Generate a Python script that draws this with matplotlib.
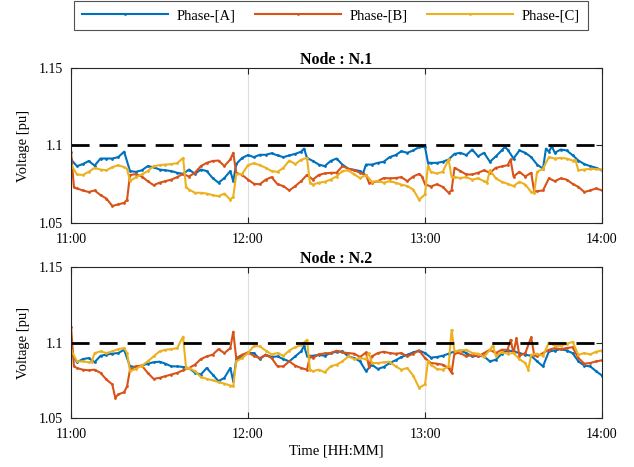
import matplotlib
matplotlib.use('Agg')
import matplotlib.pyplot as plt

plt.rcParams['font.family'] = ['Liberation Serif', 'DejaVu Serif']
plt.rcParams['font.size'] = 10

# time axis in minutes after 11:00
tick_min = [0, 60, 120, 180]
tick_lab = ['11:00', '12:00', '13:00', '14:00']
ytick_val = [1.05, 1.1, 1.15]
ytick_lab = ['1.05', '1.1', '1.15']
v_limit = 1.1
phase_names = ['Phase-[A]', 'Phase-[B]', 'Phase-[C]']
node_names = ['N.1', 'N.2']

# ---- Node N.1 ----
n1_a_min = [0, 2, 4, 6, 8, 10, 12, 14, 16, 18, 20, 22, 24, 26, 28, 30, 32, 34, 36, 38, 40, 42, 44, 46, 48, 50,
            52, 54, 55, 56, 58, 60, 62, 64, 66, 68, 70, 72, 74, 76, 78, 79, 80, 82, 84, 86, 88, 90, 92, 94, 96,
            98, 99, 100, 102, 104, 106, 108, 110, 112, 114, 116, 118, 120, 121, 122, 124, 126, 128, 130, 132,
            134, 136, 138, 140, 142, 144, 146, 147, 148, 150, 152, 154, 156, 158, 160, 161, 162, 163, 164, 166,
            168, 170, 172, 174, 176, 178, 180]
n1_a_val = [1.091, 1.0867, 1.088, 1.090, 1.087, 1.0916, 1.0916, 1.0916, 1.0925, 1.096, 1.0835, 1.083, 1.084,
            1.0867, 1.086, 1.0845, 1.084, 1.0835, 1.0824, 1.0817, 1.0845, 1.0817, 1.0845, 1.0835, 1.079, 1.076,
            1.079, 1.0835, 1.077, 1.088, 1.092, 1.0938, 1.0925, 1.094, 1.094, 1.095, 1.0936, 1.0925, 1.0936,
            1.0946, 1.096, 1.098, 1.092, 1.090, 1.0877, 1.0867, 1.090, 1.0916, 1.0877, 1.085, 1.0843, 1.0835,
            1.082, 1.0877, 1.0877, 1.0888, 1.0895, 1.0925, 1.0938, 1.0963, 1.0953, 1.0968, 1.099, 1.099, 1.089,
            1.0888, 1.0888, 1.0895, 1.091, 1.0946, 1.0953, 1.0938, 1.0974, 1.093, 1.0953, 1.0895, 1.093, 1.0968,
            1.099, 1.0974, 1.0916, 1.0968, 1.0953, 1.0925, 1.0877, 1.085, 1.098, 1.096, 1.0995, 1.0953, 1.0974,
            1.0968, 1.0938, 1.0903, 1.088, 1.0867, 1.0856, 1.084]

n1_b_min = [0, 1, 2, 4, 6, 8, 10, 12, 14, 16, 18, 19, 20, 22, 24, 26, 28, 30, 32, 34, 36, 38, 40, 42, 44, 46,
            48, 50, 52, 54, 55, 56, 58, 60, 62, 64, 66, 68, 70, 72, 74, 76, 78, 80, 82, 84, 86, 88, 90, 92, 94,
            96, 98, 100, 101, 102, 104, 106, 108, 110, 112, 114, 116, 118, 119, 120, 122, 124, 126, 128, 129,
            130, 132, 134, 136, 138, 140, 142, 144, 146, 148, 149, 150, 152, 154, 156, 157, 158, 160, 162, 164,
            166, 168, 170, 172, 174, 176, 178, 180]
n1_b_val = [1.096, 1.073, 1.0723, 1.071, 1.070, 1.071, 1.068, 1.0658, 1.061, 1.062, 1.063, 1.065, 1.081, 1.0815,
            1.080, 1.077, 1.0744, 1.076, 1.077, 1.078, 1.0796, 1.0817, 1.080, 1.0824, 1.0867, 1.0888, 1.090,
            1.0903, 1.0867, 1.091, 1.0953, 1.0824, 1.081, 1.078, 1.0753, 1.075, 1.078, 1.0796, 1.075, 1.0738,
            1.071, 1.0738, 1.077, 1.081, 1.078, 1.081, 1.082, 1.0824, 1.0824, 1.0867, 1.085, 1.084, 1.0824,
            1.081, 1.076, 1.076, 1.077, 1.079, 1.0788, 1.079, 1.0796, 1.077, 1.080, 1.0817, 1.080, 1.075,
            1.0735, 1.075, 1.0733, 1.0695, 1.071, 1.0856, 1.0835, 1.0813, 1.0813, 1.0824, 1.084, 1.0824, 1.0856,
            1.0865, 1.0873, 1.091, 1.080, 1.083, 1.080, 1.0824, 1.0705, 1.0705, 1.071, 1.0788, 1.077, 1.0788,
            1.078, 1.0753, 1.0733, 1.070, 1.071, 1.0723, 1.071]

n1_c_min = [0, 2, 4, 6, 8, 10, 12, 14, 16, 18, 19, 20, 22, 24, 26, 28, 30, 32, 34, 36, 38, 39, 40, 42, 44, 46,
            48, 50, 52, 54, 55, 56, 58, 60, 62, 64, 66, 68, 70, 72, 74, 76, 78, 80, 81, 82, 84, 86, 88, 90, 92,
            94, 96, 98, 100, 102, 104, 106, 108, 110, 112, 114, 116, 118, 120, 121, 122, 124, 126, 128, 129,
            130, 132, 134, 136, 138, 140, 141, 142, 144, 146, 148, 150, 152, 154, 156, 157, 158, 160, 162, 164,
            166, 168, 170, 171, 172, 174, 176, 178, 180]
n1_c_val = [1.0877, 1.0813, 1.081, 1.083, 1.0856, 1.0845, 1.084, 1.086, 1.0873, 1.086, 1.085, 1.077, 1.0796,
            1.0813, 1.0835, 1.0867, 1.0873, 1.0877, 1.088, 1.0886, 1.092, 1.073, 1.0716, 1.0695, 1.0695, 1.069,
            1.068, 1.0673, 1.069, 1.065, 1.067, 1.0813, 1.0817, 1.0873, 1.0886, 1.0873, 1.0856, 1.0835, 1.083,
            1.0856, 1.0903, 1.088, 1.0908, 1.092, 1.076, 1.0748, 1.076, 1.0766, 1.078, 1.080, 1.0835, 1.084,
            1.0813, 1.079, 1.081, 1.0766, 1.077, 1.076, 1.077, 1.076, 1.0748, 1.0738, 1.0716, 1.065, 1.0684,
            1.087, 1.083, 1.082, 1.083, 1.091, 1.0796, 1.0796, 1.079, 1.0796, 1.078, 1.0788, 1.077, 1.076, 1.084,
            1.0788, 1.0766, 1.0753, 1.0738, 1.0766, 1.0748, 1.070, 1.0695, 1.083, 1.085, 1.0925, 1.0916, 1.092,
            1.0916, 1.0903, 1.0905, 1.084, 1.0845, 1.085, 1.0848, 1.0845]

# ---- Node N.2 ----
n2_a_min = [0, 2, 4, 6, 8, 10, 12, 14, 16, 18, 20, 22, 24, 26, 28, 30, 32, 34, 36, 38, 40, 42, 44, 46, 48, 50,
            52, 54, 55, 56, 58, 60, 62, 64, 66, 68, 70, 72, 74, 76, 78, 79, 80, 82, 84, 86, 88, 90, 92, 94, 96,
            98, 100, 102, 104, 106, 108, 110, 112, 114, 116, 118, 120, 122, 124, 126, 128, 130, 132, 134, 136,
            138, 140, 142, 144, 146, 148, 150, 152, 154, 156, 158, 160, 162, 164, 166, 168, 170, 172, 174, 176,
            178, 180]
n2_a_val = [1.093, 1.0869, 1.089, 1.0897, 1.0869, 1.0912, 1.092, 1.0926, 1.093, 1.0952, 1.0842, 1.0838, 1.0847,
            1.086, 1.0869, 1.0873, 1.086, 1.0842, 1.0842, 1.0838, 1.083, 1.080, 1.0788, 1.0831, 1.0788, 1.0744,
            1.0766, 1.0831, 1.0744, 1.0886, 1.0908, 1.093, 1.093, 1.089, 1.0919, 1.0904, 1.0908, 1.089, 1.0875,
            1.0908, 1.0941, 1.0978, 1.0912, 1.0912, 1.0919, 1.0912, 1.093, 1.0939, 1.0941, 1.0908, 1.0897,
            1.0875, 1.081, 1.0853, 1.0825, 1.0838, 1.0864, 1.0882, 1.0904, 1.0919, 1.0934, 1.0947, 1.093, 1.090,
            1.0904, 1.0912, 1.0926, 1.0941, 1.0947, 1.093, 1.0908, 1.0912, 1.0908, 1.0875, 1.0886, 1.0926,
            1.0947, 1.0941, 1.093, 1.0919, 1.0912, 1.0875, 1.0842, 1.0941, 1.0947, 1.0956, 1.0947, 1.093, 1.0875,
            1.0847, 1.0842, 1.081, 1.0781]

n2_b_min = [0, 1, 2, 4, 6, 8, 10, 12, 14, 15, 16, 18, 19, 20, 22, 24, 26, 28, 30, 32, 34, 36, 38, 40, 42, 44,
            46, 48, 50, 52, 54, 55, 56, 58, 60, 62, 64, 66, 68, 70, 72, 74, 76, 78, 80, 81, 82, 84, 86, 88, 90,
            92, 94, 96, 98, 100, 101, 102, 104, 106, 108, 110, 112, 114, 116, 118, 120, 122, 124, 126, 128, 129,
            130, 132, 134, 136, 138, 140, 142, 144, 146, 148, 149, 150, 151, 152, 154, 156, 157, 158, 160, 162,
            164, 166, 168, 170, 172, 174, 176, 178, 180]
n2_b_val = [1.1105, 1.0842, 1.0831, 1.082, 1.0816, 1.082, 1.0799, 1.0755, 1.0722, 1.0634, 1.0656, 1.0671, 1.071,
            1.082, 1.0842, 1.0847, 1.0799, 1.0759, 1.0766, 1.0777, 1.0788, 1.0799, 1.0816, 1.0831, 1.0853, 1.089,
            1.0908, 1.0919, 1.0956, 1.093, 1.0963, 1.1072, 1.0897, 1.0919, 1.0934, 1.0912, 1.0897, 1.0919,
            1.0897, 1.0842, 1.0842, 1.0875, 1.0847, 1.0831, 1.082, 1.0908, 1.0897, 1.0921, 1.0928, 1.093, 1.0945,
            1.0934, 1.093, 1.0926, 1.0904, 1.0934, 1.084, 1.0908, 1.093, 1.0939, 1.093, 1.0926, 1.093, 1.0908,
            1.0926, 1.0947, 1.0897, 1.0864, 1.086, 1.0853, 1.0831, 1.0799, 1.093, 1.093, 1.0908, 1.0919, 1.0908,
            1.093, 1.0952, 1.093, 1.0952, 1.0952, 1.1018, 1.093, 1.1028, 1.0912, 1.093, 1.1035, 1.0919, 1.0908,
            1.093, 1.0952, 1.0963, 1.0956, 1.0963, 1.0969, 1.0897, 1.086, 1.0864, 1.0875, 1.0882]

n2_c_min = [0, 2, 4, 6, 7, 8, 10, 12, 14, 16, 18, 19, 20, 22, 24, 26, 28, 30, 32, 34, 36, 38, 39, 40, 42, 44,
            46, 48, 50, 52, 54, 55, 56, 58, 60, 62, 64, 66, 68, 70, 72, 74, 76, 78, 80, 81, 82, 84, 86, 88, 90,
            92, 94, 96, 98, 100, 101, 102, 104, 106, 108, 110, 112, 114, 116, 118, 120, 121, 122, 124, 126, 128,
            129, 130, 132, 134, 136, 138, 140, 142, 143, 144, 146, 148, 150, 152, 154, 155, 156, 158, 160, 162,
            164, 166, 168, 170, 172, 174, 176, 178, 180]
n2_c_val = [1.0952, 1.0875, 1.0875, 1.0869, 1.087, 1.093, 1.0941, 1.093, 1.0941, 1.0956, 1.0963, 1.093, 1.081,
            1.0825, 1.0847, 1.0875, 1.0908, 1.0941, 1.0952, 1.0956, 1.0963, 1.1039, 1.0831, 1.0831, 1.081,
            1.0772, 1.0759, 1.075, 1.0737, 1.0728, 1.0715, 1.0711, 1.0875, 1.0897, 1.093, 1.0978, 1.0974,
            1.0947, 1.0921, 1.093, 1.0912, 1.0947, 1.0969, 1.0982, 1.1018, 1.082, 1.081, 1.082, 1.0803, 1.0842,
            1.0853, 1.0875, 1.0908, 1.089, 1.0897, 1.089, 1.093, 1.0864, 1.0864, 1.0869, 1.0873, 1.0842, 1.082,
            1.0831, 1.0781, 1.070, 1.0722, 1.0875, 1.0853, 1.0825, 1.082, 1.0842, 1.1083, 1.0941, 1.0947,
            1.0952, 1.093, 1.0926, 1.0904, 1.0952, 1.098, 1.0912, 1.0934, 1.0926, 1.093, 1.089, 1.0864, 1.082,
            1.0919, 1.0926, 1.0912, 1.1, 1.0978, 1.0978, 1.0991, 1.1004, 1.0919, 1.093, 1.0921, 1.0939, 1.0947]

colors = ['#0072BD', '#D95319', '#EDB120']
ax_edge = (0.15, 0.15, 0.15)

nodes = [
    [(n1_a_min, n1_a_val), (n1_b_min, n1_b_val), (n1_c_min, n1_c_val)],
    [(n2_a_min, n2_a_val), (n2_b_min, n2_b_val), (n2_c_min, n2_c_val)],
]

fig = plt.figure(figsize=(6.34, 4.67), dpi=100)
ax1 = fig.add_axes([71 / 634, 1 - 223 / 467, 531 / 634, 155 / 467])
ax2 = fig.add_axes([71 / 634, 1 - 418 / 467, 531 / 634, 151 / 467])

for ax, series, node in zip([ax1, ax2], nodes, node_names):
    ax.xaxis.grid(True, color=(0.87, 0.87, 0.87), lw=0.8)
    ax.set_axisbelow(True)
    for (t, v), c, name in zip(series, colors, phase_names):
        ax.plot(t, v, color=c, lw=1.5, marker='.', ms=2, label=name)
    ax.axhline(v_limit, color='k', lw=2, ls=(0, (6.5, 3.6)))
    ax.set_xlim(tick_min[0], tick_min[-1])
    ax.set_ylim(ytick_val[0], ytick_val[-1])
    ax.set_xticks(tick_min)
    ax.set_xticklabels(tick_lab)
    ax.set_yticks(ytick_val)
    ax.set_yticklabels(ytick_lab)
    ax.tick_params(direction='in', top=True, right=True, length=4, width=0.8,
                   colors=ax_edge, labelcolor='k', labelsize=10)
    ax.tick_params(axis='x', pad=7)
    ax.tick_params(axis='y', pad=6)
    for sp in ax.spines.values():
        sp.set_color(ax_edge)
        sp.set_linewidth(0.8)
    ax.set_ylabel('Voltage [pu]', fontsize=10.5, labelpad=6)
    ax.set_title(f'Node : {node}', fontsize=11.5, fontweight='bold', pad=3)

ax2.set_xlabel('Time [HH:MM]', fontsize=10.5, labelpad=3)

handles, labels = ax1.get_legend_handles_labels()
leg = fig.legend(handles, labels, loc='upper center', bbox_to_anchor=(331 / 634, 1 - 1 / 467), ncol=3,
                 frameon=True, fancybox=False, handlelength=5.9, columnspacing=1.3, handletextpad=0.6,
                 borderpad=0.55, borderaxespad=0, fontsize=10.5)
leg.get_frame().set_edgecolor(ax_edge)
leg.get_frame().set_linewidth(0.8)

fig.savefig('out.png', dpi=100)
